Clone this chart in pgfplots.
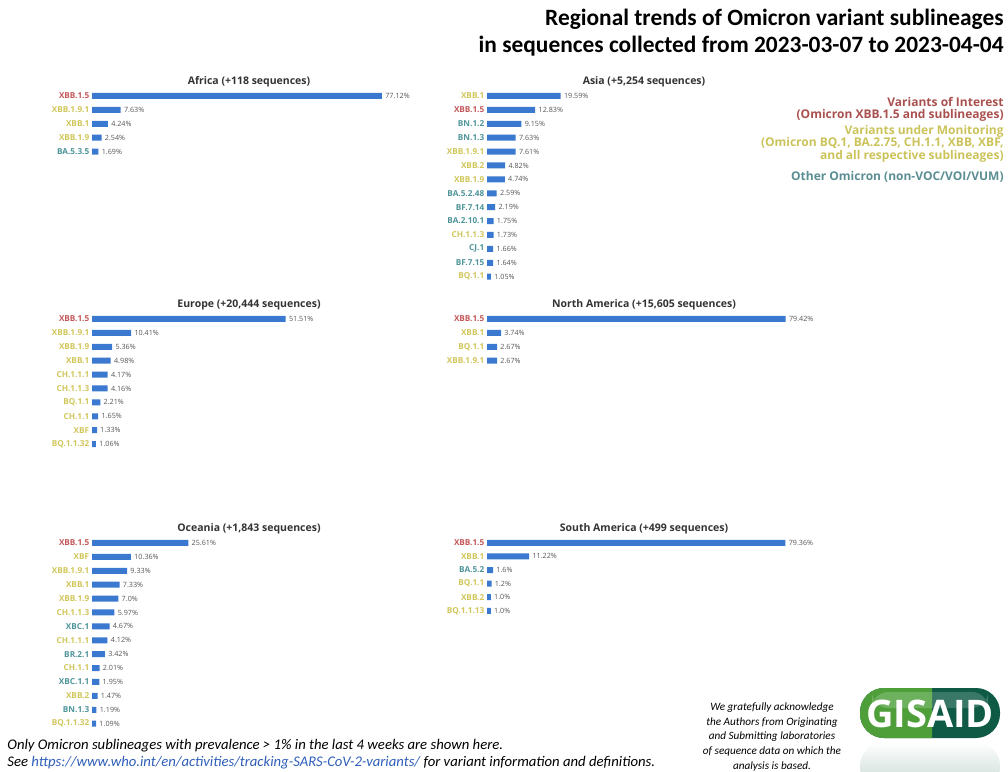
\documentclass[border=0pt]{standalone}
\usepackage{pgfplots}
\pgfplotsset{compat=1.18}
\usepackage{fontspec}
\setmainfont{Open Sans}
\newfontfamily\calibri{Carlito}
\usetikzlibrary{fadings}

\definecolor{barblue}{HTML}{3B78CF}
\definecolor{voi}{HTML}{C4585A}
\definecolor{vum}{HTML}{D0C65A}
\definecolor{oth}{HTML}{4E9499}
\definecolor{voileg}{HTML}{A9514F}
\definecolor{vumleg}{HTML}{CBC35A}
\definecolor{othleg}{HTML}{5B8E93}
\definecolor{valgray}{HTML}{555555}
\definecolor{linkblue}{HTML}{2F5EB8}
\definecolor{gislight}{HTML}{4E9F3A}
\definecolor{gisdark}{HTML}{0E5A45}

\newcommand{\R}[1]{\textcolor{voi}{#1}}
\newcommand{\Y}[1]{\textcolor{vum}{#1}}
\newcommand{\T}[1]{\textcolor{oth}{#1}}

\pgfplotsset{
  panel/.style n args={2}{
    xbar, scale only axis, clip=false,
    width=188pt, height=#1, xmin=0, xmax=100,
    ymin=-0.5, ymax=#2, y dir=reverse,
    axis line style={draw=none}, tick style={draw=none}, major tick length=0pt,
    xtick=\empty, ytick=data,
    yticklabel style={font=\fontsize{4.1}{4.1}\selectfont\bfseries, inner sep=1.2pt},
    bar width=3pt,
    nodes near coords, point meta=explicit symbolic,
    every node near coord/.append style={font=\fontsize{3.6}{3.6}\selectfont, text=valgray,
      anchor=west, inner sep=1.5pt},
    anchor=north west,
  },
  bars/.style={fill=barblue, draw=none},
}

\begin{document}
\begin{tikzpicture}
\useasboundingbox (0,0) rectangle (504pt,-386pt);

% title
\node[anchor=north east, align=right, inner sep=0pt,
      font=\calibri\bfseries\fontsize{11.7}{13.5}\selectfont] at (502pt,-4.5pt)
  {Regional trends of Omicron variant sublineages\\in sequences collected from 2023-03-07 to 2023-04-04};

% legend
\begin{scope}[every node/.style={anchor=east, inner sep=0pt, font=\fontsize{6}{6}\selectfont\bfseries}]
\node[text=voileg] at (502pt,-51pt) {Variants of Interest};
\node[text=voileg] at (502pt,-57.5pt) {(Omicron XBB.1.5 and sublineages)};
\node[text=vumleg] at (502pt,-65.5pt) {Variants under Monitoring};
\node[text=vumleg] at (502pt,-71.5pt) {(Omicron BQ.1, BA.2.75, CH.1.1, XBB, XBF,};
\node[text=vumleg] at (502pt,-78pt) {and all respective sublineages)};
\node[text=othleg] at (502pt,-88.5pt) {Other Omicron (non-VOC/VOI/VUM)};
\end{scope}

% panel titles
\begin{scope}[every node/.style={inner sep=0pt, font=\fontsize{5.25}{6}\selectfont\bfseries, text=black!80}]
\node at (124.5pt,-41pt) {Africa (+118 sequences)};
\node at (322pt,-41pt) {Asia (+5,254 sequences)};
\node at (124.5pt,-152.5pt) {Europe (+20,444 sequences)};
\node at (322pt,-152.5pt) {North America (+15,605 sequences)};
\node at (124.5pt,-264.5pt) {Oceania (+1,843 sequences)};
\node at (322pt,-264.5pt) {South America (+499 sequences)};
\end{scope}

% Africa
\begin{axis}[panel={34.75pt}{4.5}, at={(46pt,-44.5pt)},
  yticklabels={\R{XBB.1.5},\Y{XBB.1.9.1},\Y{XBB.1},\Y{XBB.1.9},\T{BA.5.3.5}}]
\addplot[bars] coordinates {(77.12,0) [77.12\%] (7.63,1) [7.63\%] (4.24,2) [4.24\%]
  (2.54,3) [2.54\%] (1.69,4) [1.69\%]};
\end{axis}

% Asia
\begin{axis}[panel={97.3pt}{13.5}, at={(243.5pt,-44.5pt)},
  yticklabels={\Y{XBB.1},\R{XBB.1.5},\T{BN.1.2},\T{BN.1.3},\Y{XBB.1.9.1},\Y{XBB.2},\Y{XBB.1.9},
    \T{BA.5.2.48},\T{BF.7.14},\T{BA.2.10.1},\Y{CH.1.1.3},\T{CJ.1},\T{BF.7.15},\Y{BQ.1.1}}]
\addplot[bars] coordinates {(19.59,0) [19.59\%] (12.83,1) [12.83\%] (9.15,2) [9.15\%]
  (7.63,3) [7.63\%] (7.61,4) [7.61\%] (4.82,5) [4.82\%] (4.74,6) [4.74\%]
  (2.59,7) [2.59\%] (2.19,8) [2.19\%] (1.75,9) [1.75\%] (1.73,10) [1.73\%]
  (1.66,11) [1.66\%] (1.64,12) [1.64\%] (1.05,13) [1.05\%]};
\end{axis}

% Europe
\begin{axis}[panel={69.5pt}{9.5}, at={(46pt,-156pt)},
  yticklabels={\R{XBB.1.5},\Y{XBB.1.9.1},\Y{XBB.1.9},\Y{XBB.1},\Y{CH.1.1.1},\Y{CH.1.1.3},
    \Y{BQ.1.1},\Y{CH.1.1},\Y{XBF},\Y{BQ.1.1.32}}]
\addplot[bars] coordinates {(51.51,0) [51.51\%] (10.41,1) [10.41\%] (5.36,2) [5.36\%]
  (4.98,3) [4.98\%] (4.17,4) [4.17\%] (4.16,5) [4.16\%] (2.21,6) [2.21\%]
  (1.65,7) [1.65\%] (1.33,8) [1.33\%] (1.06,9) [1.06\%]};
\end{axis}

% North America
\begin{axis}[panel={27.8pt}{3.5}, at={(243.5pt,-156pt)},
  yticklabels={\R{XBB.1.5},\Y{XBB.1},\Y{BQ.1.1},\Y{XBB.1.9.1}}]
\addplot[bars] coordinates {(79.42,0) [79.42\%] (3.74,1) [3.74\%] (2.67,2) [2.67\%]
  (2.67,3) [2.67\%]};
\end{axis}

% Oceania
\begin{axis}[panel={97.3pt}{13.5}, at={(46pt,-268pt)},
  yticklabels={\R{XBB.1.5},\Y{XBF},\Y{XBB.1.9.1},\Y{XBB.1},\Y{XBB.1.9},\Y{CH.1.1.3},\T{XBC.1},
    \Y{CH.1.1.1},\T{BR.2.1},\Y{CH.1.1},\T{XBC.1.1},\Y{XBB.2},\T{BN.1.3},\Y{BQ.1.1.32}}]
\addplot[bars] coordinates {(25.61,0) [25.61\%] (10.36,1) [10.36\%] (9.33,2) [9.33\%]
  (7.33,3) [7.33\%] (7.0,4) [7.0\%] (5.97,5) [5.97\%] (4.67,6) [4.67\%]
  (4.12,7) [4.12\%] (3.42,8) [3.42\%] (2.01,9) [2.01\%] (1.95,10) [1.95\%]
  (1.47,11) [1.47\%] (1.19,12) [1.19\%] (1.09,13) [1.09\%]};
\end{axis}

% South America
\begin{axis}[panel={40.8pt}{5.5}, at={(243.5pt,-268pt)},
  yticklabels={\R{XBB.1.5},\Y{XBB.1},\T{BA.5.2},\Y{BQ.1.1},\Y{XBB.2},\Y{BQ.1.1.13}}]
\addplot[bars] coordinates {(79.36,0) [79.36\%] (11.22,1) [11.22\%] (1.6,2) [1.6\%]
  (1.2,3) [1.2\%] (1.0,4) [1.0\%] (1.0,5) [1.0\%]};
\end{axis}

% footer
\begin{scope}[every node/.style={anchor=west, inner sep=0pt, font=\calibri\itshape\fontsize{7.35}{8}\selectfont}]
\node at (3.5pt,-373pt) {Only Omicron sublineages with prevalence > 1\% in the last 4 weeks are shown here.};
\node at (3.5pt,-382.5pt) {See \textcolor{linkblue}{\underline{https://www.who.int/en/activities/tracking-SARS-CoV-2-variants/}} for variant information and definitions.};
\end{scope}
\node[align=center, inner sep=0pt, font=\calibri\itshape\fontsize{5.6}{7.4}\selectfont] at (386pt,-368.5pt)
  {We gratefully acknowledge\\the Authors from Originating\\and Submitting laboratories\\of sequence data on which the\\analysis is based.};

% GISAID logo
\begin{scope}
\fill[gisdark] (430pt,-344pt) [rounded corners=12pt] rectangle (500pt,-369pt);
\begin{scope}
\clip (430pt,-340pt) rectangle (466pt,-372pt);
\fill[gislight] (430pt,-344pt) [rounded corners=12pt] rectangle (500pt,-369pt);
\end{scope}
\fill[white, opacity=0.18] (436pt,-346pt) [rounded corners=8pt] rectangle (494pt,-354pt);
\node[text=white, font=\fontsize{19}{19}\selectfont\bfseries, inner sep=0pt] at (465pt,-357pt) {GISAID};
\begin{scope}[yscale=-1, yshift=740pt]
\fill[gisdark, opacity=0.25, path fading=north] (430pt,-344pt) [rounded corners=12pt] rectangle (500pt,-369pt);
\end{scope}
\end{scope}
\end{tikzpicture}
\end{document}
